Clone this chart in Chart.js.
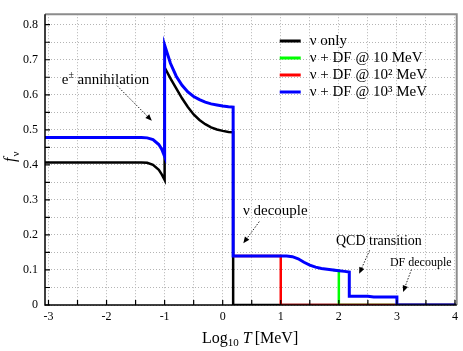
<!DOCTYPE html>
<html>
<head>
<meta charset="utf-8">
<script src="https://cdn.jsdelivr.net/npm/chart.js@4"></script>
<style>
  html, body { margin: 0; padding: 0; background: #fff; }
  canvas { display: block; }
</style>
</head>
<body>
<canvas id="chart" width="463" height="351"></canvas>
<script>
// values: x = log10 T [MeV], y = f_nu

// nu only (black)
const onlyX = [-3.06, -1.4, -1.3, -1.2, -1.1, -1.05, -1.0, -1.0, -0.9, -0.8, -0.7, -0.6, -0.5, -0.4, -0.3, -0.2, -0.1, 0.0, 0.1, 0.18, 0.18, 4.03];
const onlyY = [0.407, 0.407, 0.406, 0.400, 0.386, 0.373, 0.357, 0.678, 0.647, 0.618, 0.590, 0.565, 0.544, 0.528, 0.516, 0.507, 0.501, 0.497, 0.494, 0.493, 0, 0];

// nu + DF @ 10 MeV (green)
const df1X = [1.9, 2.0, 2.0, 4.03];
const df1Y = [0.100, 0.098, 0, 0];

// nu + DF @ 10^2 MeV (red)
const df2X = [0.18, 1.0, 1.0, 4.03];
const df2Y = [0.140, 0.140, 0, 0];

// nu + DF @ 10^3 MeV (blue)
const df3X = [-3.06, -1.4, -1.3, -1.2, -1.1, -1.05, -1.0, -1.0, -0.9, -0.8, -0.7, -0.6, -0.5, -0.4, -0.3, -0.2, -0.1, 0.0, 0.1, 0.18, 0.18,
              1.1, 1.2, 1.3, 1.4, 1.5, 1.6, 1.7, 1.8, 1.9, 2.0, 2.1, 2.18, 2.18, 2.5, 2.6, 3.0, 3.0, 4.03];
const df3Y = [0.478, 0.478, 0.477, 0.472, 0.458, 0.445, 0.424, 0.742, 0.690, 0.653, 0.627, 0.608, 0.595, 0.586, 0.579, 0.574, 0.571, 0.568, 0.566, 0.565, 0.140,
              0.140, 0.138, 0.132, 0.122, 0.114, 0.108, 0.104, 0.102, 0.100, 0.098, 0.096, 0.094, 0.025, 0.025, 0.023, 0.023, 0, 0];

const seriesNames = ['ν only', 'ν + DF @ 10 MeV', 'ν + DF @ 10² MeV', 'ν + DF @ 10³ MeV'];
const seriesColors = ['#000000', '#00ff00', '#ff0000', '#0000ff'];

const xTickLabels = ['-3', '-2', '-1', '0', '1', '2', '3', '4'];
const yTickLabels = ['0', '0.1', '0.2', '0.3', '0.4', '0.5', '0.6', '0.7', '0.8'];

// annotations, in data units
const notes = [
  { text: 'annihilation', x: -2.77, y: 0.632, size: 15, sup: true, from: [-1.82, 0.626], to: [-1.22, 0.526] },
  { text: 'ν decouple', x: 0.35, y: 0.256, size: 15, from: [0.63, 0.238], to: [0.355, 0.176] },
  { text: 'QCD transition', x: 1.95, y: 0.170, size: 14, from: [2.53, 0.156], to: [2.35, 0.089] },
  { text: 'DF decouple', x: 2.88, y: 0.110, size: 12, from: [3.25, 0.101], to: [3.107, 0.037] }
];

const serif = "'Liberation Serif', 'Times New Roman', serif";

const xGrid = [];
for (let i = 0; i <= 14; i++) xGrid.push(-3 + i * 0.5);
const yGrid = [];
for (let i = 0; i <= 16; i++) yGrid.push(Math.round(i * 5) / 100);

const pts = (xs, ys) => xs.map((v, i) => ({ x: v, y: ys[i] }));

function arrow(ctx, x0, y0, x1, y1) {
  const ang = Math.atan2(y1 - y0, x1 - x0);
  const len = 7;
  ctx.save();
  ctx.strokeStyle = '#222';
  ctx.lineWidth = 1;
  ctx.setLineDash([1.5, 1.5]);
  ctx.beginPath();
  ctx.moveTo(x0, y0);
  ctx.lineTo(x1 - Math.cos(ang) * len * 0.8, y1 - Math.sin(ang) * len * 0.8);
  ctx.stroke();
  ctx.setLineDash([]);
  ctx.fillStyle = '#000';
  ctx.beginPath();
  ctx.moveTo(x1, y1);
  ctx.lineTo(x1 - len * Math.cos(ang - 0.4), y1 - len * Math.sin(ang - 0.4));
  ctx.lineTo(x1 - len * Math.cos(ang + 0.4), y1 - len * Math.sin(ang + 0.4));
  ctx.closePath();
  ctx.fill();
  ctx.restore();
}

const decor = {
  id: 'decor',
  afterDatasetsDraw(chart) {
    const { ctx, chartArea: a, scales: { x, y } } = chart;
    ctx.save();

    // frame: grey top/right, black left/bottom
    ctx.strokeStyle = '#8c8c8c';
    ctx.lineWidth = 2;
    ctx.beginPath();
    ctx.moveTo(a.left, a.top);
    ctx.lineTo(a.right, a.top);
    ctx.lineTo(a.right, a.bottom);
    ctx.stroke();
    ctx.strokeStyle = '#000';
    ctx.lineWidth = 1.5;
    ctx.beginPath();
    ctx.moveTo(a.left, a.top);
    ctx.lineTo(a.left, a.bottom);
    ctx.lineTo(a.right, a.bottom);
    ctx.stroke();

    // inward ticks
    ctx.lineWidth = 1.2;
    ctx.beginPath();
    xGrid.forEach(v => {
      const px = x.getPixelForValue(v);
      ctx.moveTo(px, a.bottom);
      ctx.lineTo(px, a.bottom - 5);
    });
    yGrid.forEach(v => {
      const py = y.getPixelForValue(v);
      ctx.moveTo(a.left, py);
      ctx.lineTo(a.left + 5, py);
    });
    ctx.stroke();

    // legend
    ctx.textBaseline = 'middle';
    ctx.textAlign = 'left';
    ctx.font = '15px ' + serif;
    seriesNames.forEach((name, i) => {
      const ly = 41 + i * 17;
      ctx.strokeStyle = seriesColors[i];
      ctx.lineWidth = 3;
      ctx.beginPath();
      ctx.moveTo(a.right - 177, ly);
      ctx.lineTo(a.right - 156, ly);
      ctx.stroke();
      ctx.fillStyle = '#000';
      ctx.fillText(name, a.right - 147, ly);
    });

    // annotations
    ctx.textBaseline = 'alphabetic';
    notes.forEach(n => {
      let px = x.getPixelForValue(n.x);
      const py = y.getPixelForValue(n.y);
      ctx.fillStyle = '#000';
      if (n.sup) {
        ctx.font = n.size + 'px ' + serif;
        ctx.fillText('e', px, py);
        px += ctx.measureText('e').width;
        ctx.font = '10px ' + serif;
        ctx.fillText('±', px, py - 6);
        px += ctx.measureText('± ').width + 1;
      }
      ctx.font = n.size + 'px ' + serif;
      ctx.fillText(n.text, px, py);
      arrow(ctx, x.getPixelForValue(n.from[0]), y.getPixelForValue(n.from[1]),
            x.getPixelForValue(n.to[0]), y.getPixelForValue(n.to[1]));
    });

    // x title: Log10 T [MeV]
    let tx = 202;
    const ty = 343;
    ctx.font = '16px ' + serif;
    ctx.fillText('Log', tx, ty);
    tx += ctx.measureText('Log').width;
    ctx.font = '11px ' + serif;
    ctx.fillText('10', tx, ty + 3);
    tx += ctx.measureText('10').width + 4;
    ctx.font = 'italic 16px ' + serif;
    ctx.fillText('T', tx, ty);
    tx += ctx.measureText('T').width + 3;
    ctx.font = '16px ' + serif;
    ctx.fillText('[MeV]', tx, ty);

    // y title: f_nu, rotated
    ctx.translate(15, 162);
    ctx.rotate(-Math.PI / 2);
    ctx.font = 'italic 16px ' + serif;
    ctx.fillText('f', 0, 0);
    const fw = ctx.measureText('f').width;
    ctx.font = '11px ' + serif;
    ctx.fillText('ν', fw + 1, 4);

    ctx.restore();
  }
};

new Chart(document.getElementById('chart'), {
  type: 'line',
  data: {
    datasets: [
      { label: seriesNames[0], data: pts(onlyX, onlyY), borderColor: seriesColors[0], borderWidth: 2.5, order: 3 },
      { label: seriesNames[1], data: pts(df1X, df1Y), borderColor: seriesColors[1], borderWidth: 2.5, order: 2 },
      { label: seriesNames[2], data: pts(df2X, df2Y), borderColor: seriesColors[2], borderWidth: 2.5, order: 1 },
      { label: seriesNames[3], data: pts(df3X, df3Y), borderColor: seriesColors[3], borderWidth: 3, order: 0 }
    ]
  },
  options: {
    responsive: false,
    animation: false,
    devicePixelRatio: 1,
    layout: { padding: { top: 3, right: 6, left: 0, bottom: 0 } },
    elements: { point: { radius: 0 }, line: { tension: 0, fill: false } },
    plugins: { legend: { display: false }, tooltip: { enabled: false } },
    scales: {
      x: {
        type: 'linear',
        min: -3.06,
        max: 4.03,
        afterFit: s => { s.height = 46; },
        afterBuildTicks: s => { s.ticks = xGrid.map(v => ({ value: v })); },
        grid: { color: '#b4b4b4', lineWidth: 1, drawTicks: false },
        border: { display: false, dash: [1, 2] },
        ticks: {
          padding: 5,
          color: '#000',
          autoSkip: false,
          maxRotation: 0,
          font: { family: serif, size: 12 },
          callback: v => Number.isInteger(v) ? xTickLabels[v + 3] : ''
        }
      },
      y: {
        min: 0,
        max: 0.83,
        afterFit: s => { s.width = 45; },
        afterBuildTicks: s => { s.ticks = yGrid.map(v => ({ value: v })); },
        grid: { color: '#b4b4b4', lineWidth: 1, drawTicks: false },
        border: { display: false, dash: [1, 2] },
        ticks: {
          padding: 7,
          color: '#000',
          autoSkip: false,
          font: { family: serif, size: 12 },
          callback: (v, i) => i % 2 === 0 ? yTickLabels[i / 2] : ''
        }
      }
    }
  },
  plugins: [decor]
});
</script>
</body>
</html>
